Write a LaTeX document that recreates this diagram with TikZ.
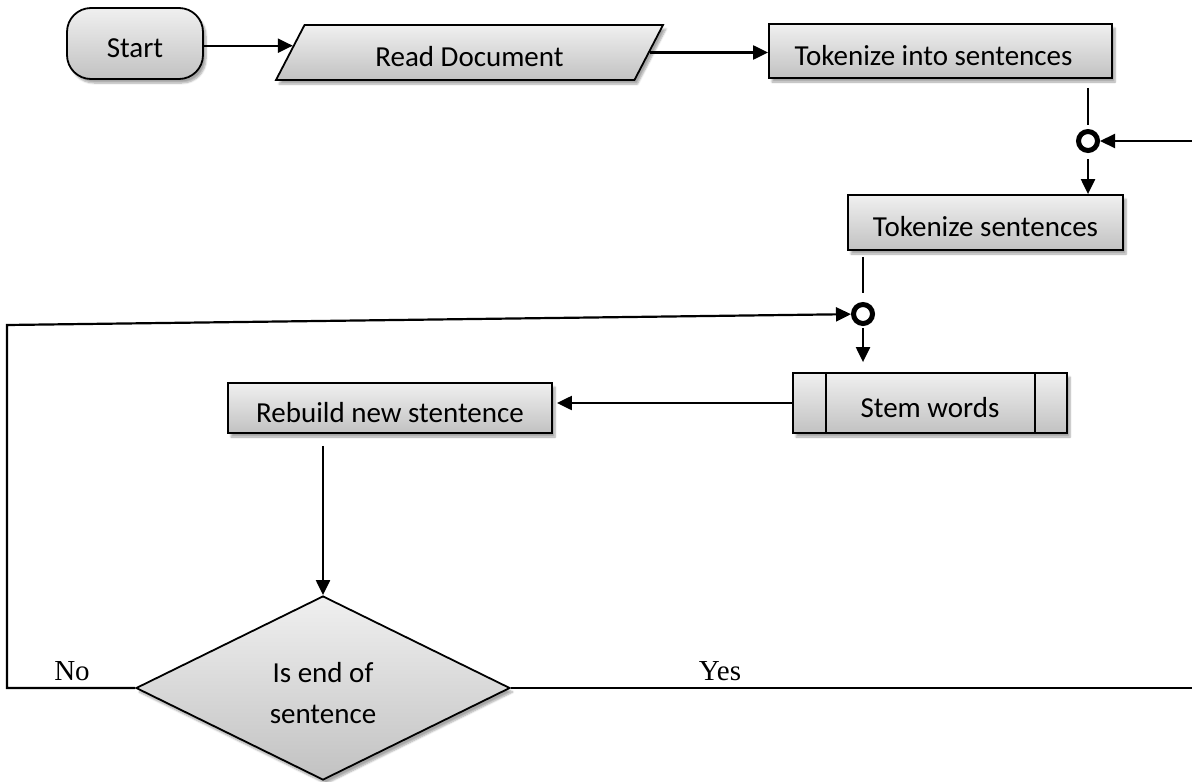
\documentclass[tikz,border=0pt]{standalone}
\usepackage{fontspec}
\setmainfont{Carlito}
\newfontfamily\timesfont{Liberation Serif}
\usetikzlibrary{shapes.geometric,arrows.meta,calc,shadows.blur}
\newcommand{\lowtxt}[1]{\raisebox{-4.5pt}[\height][\depth]{#1}}
\begin{document}
\begin{tikzpicture}[x=1pt,y=-1pt,
  font=\fontsize{29}{41}\selectfont,
  box/.style={draw=black, line width=1.8pt, inner sep=0pt,
    top color=white!94!black, bottom color=white!76!black,
    blur shadow={shadow xshift=3pt, shadow yshift=-4pt, shadow blur steps=6, shadow opacity=35}},
  procbox/.style={box, rectangle},
  junction/.style={circle, draw=black, line width=5pt, minimum size=19pt, inner sep=0pt, fill=white},
  conn/.style={draw=black, line width=2.2pt},
  arr/.style={conn, -{Triangle[length=15pt,width=14pt]}},
  lbl/.style={font=\timesfont\fontsize{29}{35}\selectfont, inner sep=0pt}
]
\useasboundingbox (0,0) rectangle (1192,782);

% nodes
\node[box, rectangle, rounded corners=24pt, minimum width=136pt, minimum height=71pt] (start) at (135,43.5) {\lowtxt{Start}};
\node[box, trapezium, trapezium left angle=35.5, trapezium right angle=144.5,
      trapezium stretches body, minimum width=387pt, minimum height=55pt] (para) at (469.5,52.5) {\lowtxt{Read Document}};
\node[procbox, minimum width=343pt, minimum height=54pt] (tis) at (940.5,51) {\lowtxt{Tokenize into sentences}\hspace*{14pt}};
\node[junction] (c1) at (1088,141) {};
\node[procbox, minimum width=275pt, minimum height=55pt] (ts) at (985.5,222.5) {\lowtxt{Tokenize sentences}};
\node[junction] (c2) at (863,314) {};
\node[procbox, minimum width=274pt, minimum height=60pt] (stem) at (930,403) {\lowtxt{Stem words}};
\draw[line width=1.8pt] ([xshift=34pt]stem.north west) -- ([xshift=34pt]stem.south west);
\draw[line width=1.8pt] ([xshift=-33pt]stem.north east) -- ([xshift=-33pt]stem.south east);
\node[procbox, minimum width=324pt, minimum height=50pt] (reb) at (390,408) {\lowtxt{Rebuild new stentence}};
\node[box, diamond, minimum width=374pt, minimum height=184pt] (dec) at (323,688) {};
\node[align=center, inner sep=0pt] (dectext) at (323,693) {Is end of\\sentence};
\node[lbl] (no) at (72,671) {No};
\node[lbl] (yes) at (720,671) {Yes};

% helper coordinates
\coordinate (pin) at ($(para.bottom left corner)!0.62!(para.top left corner)$);
\coordinate (l1) at (7,688);
\coordinate (l2) at (7,325);
\coordinate (r1) at (1200,688);
\coordinate (r2) at (1200,141);

% connectors
\draw[arr] (pin -| start.east) -- (pin);
\draw[arr] (para.east) -- (para.east -| tis.west);
\draw[conn, shorten <=9pt, shorten >=4pt] (tis.south -| c1) -- (c1);
\draw[arr, shorten <=6pt] (c1) -- (c1 |- ts.north);
\draw[arr] (dec.east) -- (r1) -- (r2) -- (c1);
\draw[conn, shorten <=6pt, shorten >=9pt] (ts.south -| c2) -- (c2);
\draw[arr, shorten <=2pt, shorten >=10pt] (c2) -- (c2 |- stem.north);
\draw[arr] (dec.west) -- (l1) -- (l2) -- (c2);
\draw[arr, shorten >=4pt] (stem.west) -- (stem.west -| reb.east);
\draw[arr, shorten <=12pt] (reb.south -| dec.north) -- (dec.north);
\end{tikzpicture}
\end{document}
